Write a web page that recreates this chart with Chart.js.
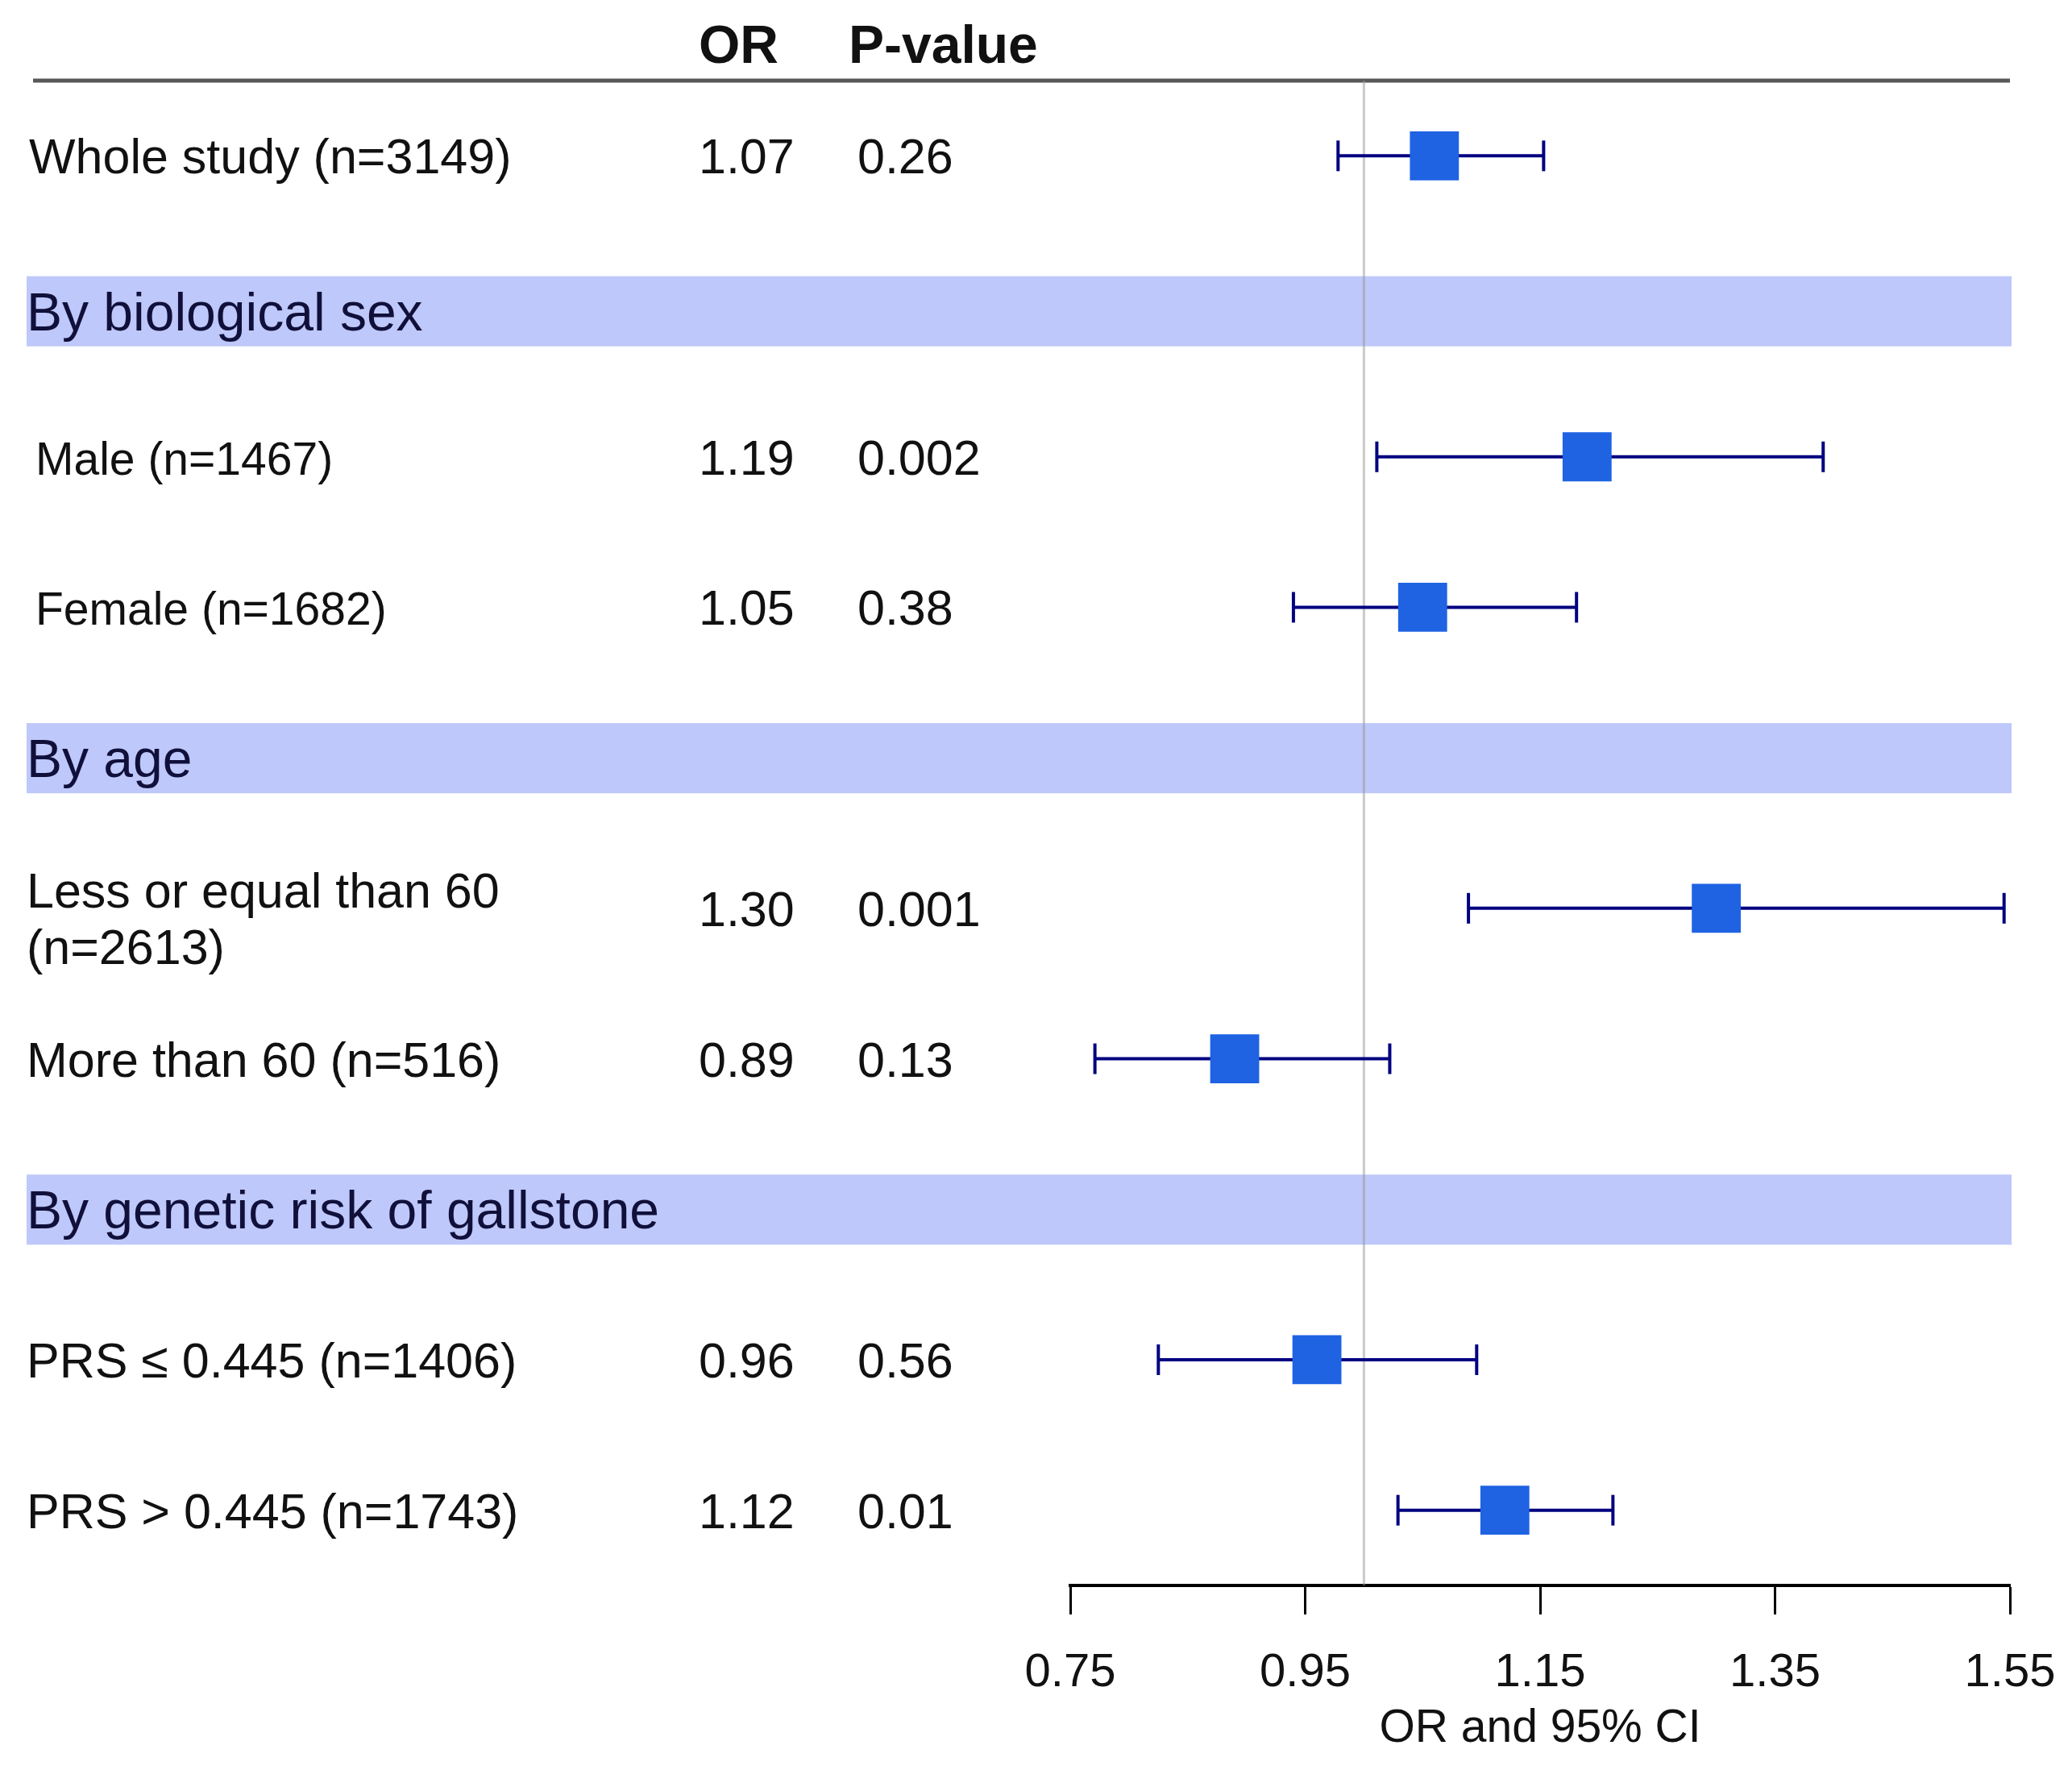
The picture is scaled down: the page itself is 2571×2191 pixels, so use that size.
<!DOCTYPE html>
<html>
<head>
<meta charset="utf-8">
<script src="https://cdn.jsdelivr.net/npm/chart.js@4"></script>
<style>
  html, body { margin: 0; padding: 0; background: #fff; }
  #wrap { width: 2571px; height: 2191px; }
</style>
</head>
<body>
<div id="wrap"><canvas id="myChart"></canvas></div>
<script>
// rows of the table, top to bottom
var rowLabels = ["Whole study (n=3149)", "Male (n=1467)", "Female (n=1682)",
  ["Less or equal than 60", "(n=2613)"], "More than 60 (n=516)",
  "PRS \u2264 0.445 (n=1406)", "PRS > 0.445 (n=1743)"];
var rowSlots = [0, 2, 3, 5, 6, 8, 9];
var orText = ["1.07", "1.19", "1.05", "1.30", "0.89", "0.96", "1.12"];
var pText = ["0.26", "0.002", "0.38", "0.001", "0.13", "0.56", "0.01"];
var orValues = [1.06, 1.19, 1.05, 1.30, 0.89, 0.96, 1.12];
var ciLower = [0.978, 1.011, 0.940, 1.089, 0.771, 0.825, 1.029];
var ciUpper = [1.153, 1.391, 1.181, 1.545, 1.022, 1.096, 1.212];

var groupNames = ["By biological sex", "By age", "By genetic risk of gallstone"];
var groupSlots = [1.03, 4, 7];

var tickValues = [0.75, 0.95, 1.15, 1.35, 1.55];

var FONT = "'Liberation Sans', Arial, sans-serif";
// label indent and size per row (the sex rows are set a bit smaller)
var labelX = [36, 44, 44, 33, 33, 33, 33];
var labelSize = [61, 57, 57, 61, 61, 61, 61];

var tablePlugin = {
  id: "table",
  beforeDatasetsDraw: function(chart) {
    var ctx = chart.ctx;
    var x = chart.scales.x, y = chart.scales.y;
    ctx.save();
    // group bands
    ctx.fillStyle = "#bec8fa";
    groupSlots.forEach(function(s) {
      var cy = y.getPixelForValue(s);
      ctx.fillRect(33, cy - 43, 2496 - 33, 87);
    });
    // top rule
    ctx.strokeStyle = "#585858";
    ctx.lineWidth = 5;
    ctx.beginPath();
    ctx.moveTo(41, chart.chartArea.top);
    ctx.lineTo(x.right, chart.chartArea.top);
    ctx.stroke();
    // OR = 1 line
    var rx = x.getPixelForValue(1);
    ctx.strokeStyle = "rgba(150,150,150,0.5)";
    ctx.lineWidth = 3;
    ctx.beginPath();
    ctx.moveTo(rx, chart.chartArea.top);
    ctx.lineTo(rx, chart.chartArea.bottom);
    ctx.stroke();
    ctx.restore();
  },
  afterDatasetsDraw: function(chart) {
    var ctx = chart.ctx;
    var y = chart.scales.y;
    ctx.save();
    ctx.textBaseline = "alphabetic";
    ctx.textAlign = "left";
    // header
    ctx.fillStyle = "#111";
    ctx.font = "bold 66px " + FONT;
    ctx.fillText("OR", 867, 78);
    ctx.fillText("P-value", 1053, 78);
    // group titles
    ctx.fillStyle = "#10103a";
    ctx.font = "66px " + FONT;
    groupNames.forEach(function(g, i) {
      ctx.fillText(g, 33, y.getPixelForValue(groupSlots[i]) + 24);
    });
    // rows
    ctx.fillStyle = "#111";
    rowLabels.forEach(function(lab, i) {
      var cy = y.getPixelForValue(rowSlots[i]);
      ctx.font = labelSize[i] + "px " + FONT;
      if (Array.isArray(lab)) {
        ctx.fillText(lab[0], labelX[i], cy - 23 + 22);
        ctx.fillText(lab[1], labelX[i], cy + 47 + 22);
      } else {
        ctx.fillText(lab, labelX[i], cy + 22);
      }
      ctx.font = "61px " + FONT;
      ctx.fillText(orText[i], 867, cy + 22);
      ctx.fillText(pText[i], 1064, cy + 22);
    });
    ctx.restore();
  }
};

var datasets = [{
  label: "OR",
  data: orValues.map(function(v, i) { return { x: v, y: rowSlots[i] }; }),
  pointStyle: "rect",
  pointRadius: 43,
  pointBorderWidth: 0,
  backgroundColor: "#1f63e3",
  borderColor: "#1f63e3",
  showLine: false,
  order: 0,
  clip: false
}];
ciLower.forEach(function(lo, i) {
  datasets.push({
    label: "CI " + i,
    data: [{ x: lo, y: rowSlots[i] }, { x: ciUpper[i], y: rowSlots[i] }],
    showLine: true,
    borderColor: "#000080",
    borderWidth: 4,
    pointStyle: "line",
    pointRotation: 90,
    pointRadius: 19,
    pointBorderWidth: 4,
    pointBorderColor: "#000080",
    order: 1,
    clip: false
  });
});

var ctx = document.getElementById("myChart").getContext("2d");
var chart = new Chart(ctx, {
  type: "scatter",
  data: { datasets: datasets },
  options: {
    responsive: true,
    maintainAspectRatio: false,
    animation: false,
    layout: { padding: { top: 100, left: 1328, right: 77, bottom: 0 } },
    plugins: { legend: { display: false }, tooltip: { enabled: false } },
    scales: {
      y: { type: "linear", min: -0.5, max: 9.5, reverse: true, display: false },
      x: {
        type: "linear",
        min: 0.75,
        max: 1.55,
        afterBuildTicks: function(scale) {
          scale.ticks = tickValues.map(function(v) { return { value: v }; });
        },
        afterFit: function(scale) {
          scale.height = 224;
          scale.paddingLeft = 0;
          scale.paddingRight = 0;
        },
        grid: { drawOnChartArea: false, drawTicks: true, tickLength: 36, tickColor: "#000", tickWidth: 3 },
        border: { display: true, color: "#000", width: 4 },
        ticks: {
          color: "#111",
          padding: 38,
          maxRotation: 0,
          font: { family: FONT, size: 58 },
          callback: function(v) { return Number(v).toFixed(2); }
        },
        title: {
          display: true,
          text: "OR and 95% CI",
          color: "#111",
          font: { family: FONT, size: 57 },
          padding: { top: 0, bottom: 12 }
        }
      }
    }
  },
  plugins: [tablePlugin]
});
</script>
</body>
</html>
